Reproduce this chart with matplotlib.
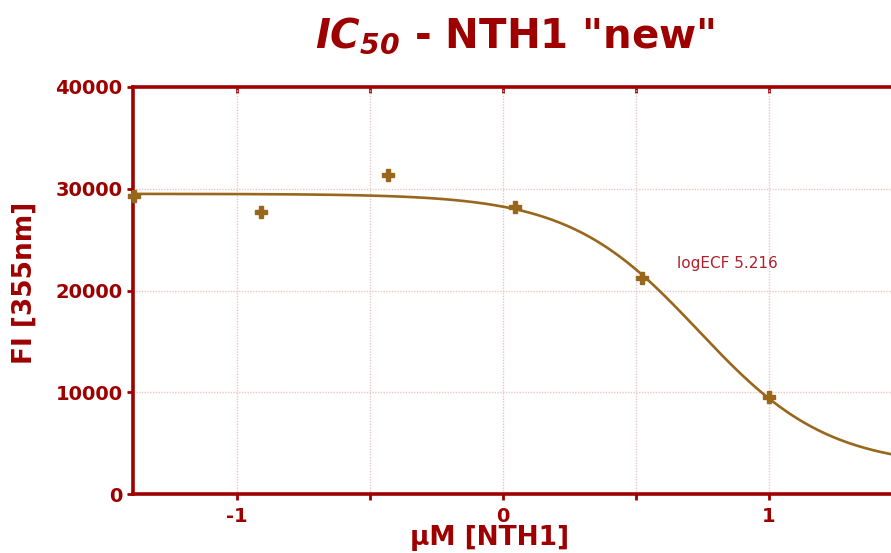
import numpy as np
import matplotlib
matplotlib.use("Agg")
import matplotlib.pyplot as plt
from matplotlib.ticker import MultipleLocator

plt.rcParams["font.family"] = ["DejaVu Sans"]
plt.rcParams["mathtext.fontset"] = "custom"
plt.rcParams["mathtext.bf"] = "DejaVu Sans:italic:bold"
plt.rcParams["mathtext.it"] = "DejaVu Sans:italic:bold"
plt.rcParams["mathtext.rm"] = "DejaVu Sans:bold"

# Measured fluorescence vs. log10 concentration (3-fold dilution series)
log_conc = [-1.386, -0.908, -0.431, 0.046, 0.523, 1.000]
fluorescence = [29270, 27670, 31340, 28220, 21190, 9500]

# Four-parameter logistic fit parameters
fit_top = 29500
fit_bottom = 2600
fit_logic50 = 0.735
fit_hill = 1.78
fit_label = "logECF 5.216"

x_ticks = [-1, 0, 1]
y_ticks = [0, 10000, 20000, 30000, 40000]

RED = "#9E0000"
CURVE = "#98671C"
GRID = "#EBC6C6"

W, H = 891, 553
fig = plt.figure(figsize=(W / 100, H / 100), dpi=100)
ax = fig.add_axes([133 / W, (H - 494) / H, (W - 133) / W, (494 - 87) / H])

x_min, x_max = -1.391, 1.459
ax.set_xlim(x_min, x_max)
ax.set_ylim(0, 40000)

xs = np.linspace(x_min, x_max, 400)
curve = fit_bottom + (fit_top - fit_bottom) / (1 + 10 ** ((xs - fit_logic50) * fit_hill))
ax.plot(xs, curve, color=CURVE, lw=1.9, zorder=3, clip_on=False)
ax.plot(log_conc, fluorescence, linestyle="none", marker="P", ms=9,
        color=CURVE, mec=CURVE, zorder=4, clip_on=False)

ax.text(0.654, 22690, fit_label, color="#B0202C", fontsize=11, va="center", ha="left")

ax.xaxis.set_minor_locator(MultipleLocator(0.5))
ax.set_xticks(x_ticks)
ax.set_yticks(y_ticks)
ax.set_xticklabels([str(v) for v in x_ticks])
ax.set_yticklabels([str(v) for v in y_ticks])

ax.grid(True, which="both", axis="x", color=GRID, lw=1.0, ls=(0, (1, 1)), zorder=0)
ax.grid(True, which="major", axis="y", color=GRID, lw=1.0, ls=(0, (1, 1)), zorder=0)

for side in ("left", "bottom", "top"):
    ax.spines[side].set_color(RED)
    ax.spines[side].set_linewidth(2.6)
ax.spines["right"].set_visible(False)

ax.tick_params(axis="both", which="both", colors=RED, width=2, length=4,
               labelsize=14, direction="out")
ax.tick_params(axis="x", pad=5)
for lbl in ax.get_xticklabels() + ax.get_yticklabels():
    lbl.set_fontweight("bold")
    lbl.set_color(RED)

# Inward ticks along the top frame
top = ax.secondary_xaxis("top")
top.set_xticks([-1, -0.5, 0, 0.5, 1])
top.tick_params(direction="in", length=4, width=2, colors=RED, labeltop=False)
top.spines["top"].set_visible(False)

fig.text(515 / W, 1 - 36 / H, r'$\mathbf{IC}_{\mathbf{50}}$ - NTH1 "new"',
         ha="center", va="center", fontsize=29, fontweight="bold", color=RED)
fig.text(25 / W, 1 - 283 / H, "FI [355nm]", rotation=90, ha="center", va="center",
         fontsize=19, fontweight="bold", color=RED)
fig.text(490 / W, 1 - 538 / H, "μM [NTH1]", ha="center", va="center",
         fontsize=19, fontweight="bold", color=RED)

fig.savefig("out.png", dpi=100)
